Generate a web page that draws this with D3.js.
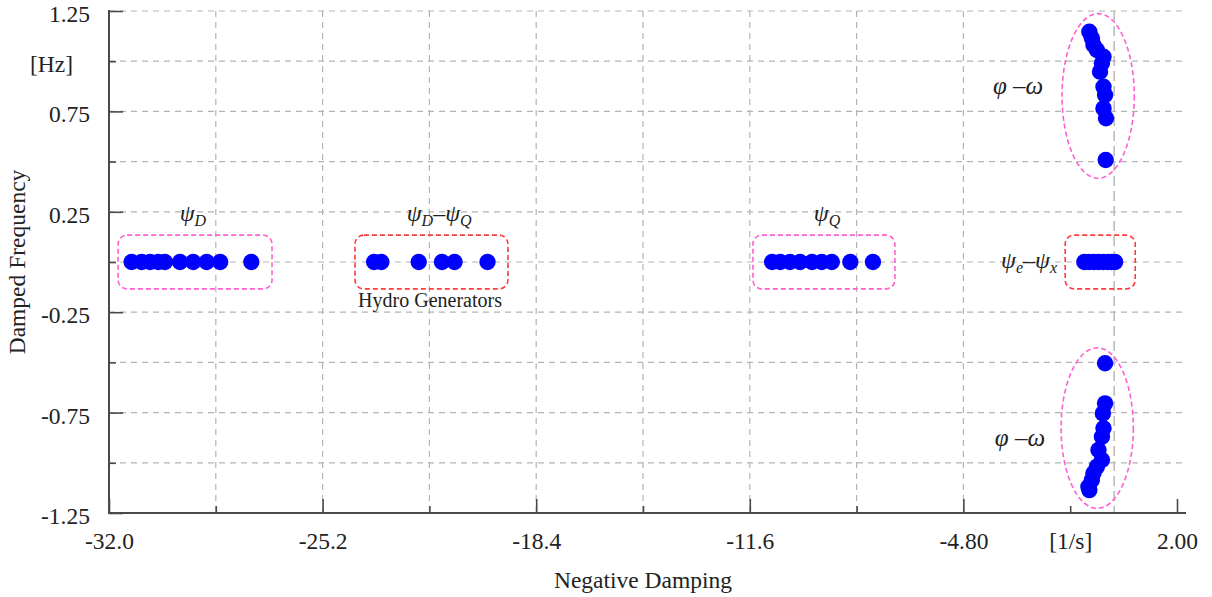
<!DOCTYPE html>
<html>
<head>
<meta charset="utf-8">
<script src="https://cdn.jsdelivr.net/npm/d3@7/dist/d3.min.js"></script>
<style>
  body { margin: 0; background: #fff; }
  svg { display: block; }
  text { font-family: "Liberation Serif", "Times New Roman", serif; fill: #222; }
</style>
</head>
<body>
<svg id="chart" width="1212" height="597"></svg>
<script>
// ---- axis ticks and labels ----
const xMajorTicks  = [-32.0, -25.2, -18.4, -11.6, -4.8, 2.0];
const xMajorLabels = ["-32.0", "-25.2", "-18.4", "-11.6", "-4.80", "2.00"];
const xMinorTicks  = [-28.6, -21.8, -15.0, -8.2, -1.4];
const xMinorLabels = ["", "", "", "", "[1/s]"];
const xGridLines   = [-28.6, -25.2, -21.8, -18.4, -15.0, -11.6, -8.2, -4.8];
const xZeroLine    = [0];

const yMajorTicks  = [-1.25, -0.75, -0.25, 0.25, 0.75, 1.25];
const yMajorLabels = ["-1.25", "-0.75", "-0.25", "0.25", "0.75", "1.25"];
const yMinorTicks  = [-1.0, -0.5, 0.0, 0.5, 1.0];
const yMinorLabels = ["", "", "", "", "[Hz]"];
const yGridLines   = [-1.0, -0.75, -0.5, -0.25, 0.0, 0.25, 0.5, 0.75, 1.0, 1.25];

// ---- eigenvalues: real part (negative damping, 1/s) and imaginary part (damped frequency, Hz) ----
const psiDReal  = [-31.28, -30.96, -30.69, -30.43, -30.22, -29.74, -29.32, -28.89, -28.46, -27.47];
const psiDImag  = [0, 0, 0, 0, 0, 0, 0, 0, 0, 0];

const hydroReal = [-23.56, -23.33, -22.14, -21.40, -21.00, -19.95];
const hydroImag = [0, 0, 0, 0, 0, 0];

const psiQReal  = [-10.89, -10.63, -10.32, -10.00, -9.62, -9.31, -8.99, -8.40, -7.68];
const psiQImag  = [0, 0, 0, 0, 0, 0, 0, 0, 0];

const excReal   = [-0.95, -0.80, -0.65, -0.50, -0.35, -0.20, -0.08, 0.03];
const excImag   = [0, 0, 0, 0, 0, 0, 0, 0];

const mechUpperReal = [-0.79, -0.71, -0.66, -0.55, -0.34, -0.39, -0.45, -0.34, -0.29, -0.34, -0.26, -0.27];
const mechUpperImag = [1.147, 1.114, 1.081, 1.056, 1.022, 0.990, 0.948, 0.873, 0.832, 0.765, 0.716, 0.508];

const mechLowerReal = [-0.29, -0.29, -0.36, -0.34, -0.39, -0.50, -0.39, -0.55, -0.66, -0.71, -0.82, -0.79];
const mechLowerImag = [-0.504, -0.704, -0.754, -0.828, -0.870, -0.936, -0.986, -1.019, -1.052, -1.086, -1.119, -1.136];

// ---- group outlines (data coordinates) ----
const boxGroups = [
  { x0: -31.71, x1: -26.81, y0: -0.134, y1: 0.134, kind: "pink" },
  { x0: -24.17, x1: -19.30, y0: -0.134, y1: 0.134, kind: "red" },
  { x0: -11.50, x1: -6.98,  y0: -0.134, y1: 0.134, kind: "pink" },
  { x0: -1.56,  x1: 0.67,   y0: -0.134, y1: 0.134, kind: "red" }
];
const ellipseGroups = [
  { cx: -0.51, cy: 0.827,  rx: 1.15, ry: 0.41 },
  { cx: -0.54, cy: -0.827, rx: 1.15, ry: 0.40 }
];

// ---- group labels: [symbol, subscript] pieces ----
const groupLabels = [
  { x: -29.33, y: 0.204,  anchor: "middle", size: 24, parts: [["ψ", "D"]] },
  { x: -21.49, y: 0.204,  anchor: "middle", size: 24, parts: [["ψ", "D"], ["–", ""], ["ψ", "Q"]] },
  { x: -9.14,  y: 0.204,  anchor: "middle", size: 24, parts: [["ψ", "Q"]] },
  { x: -1.82,  y: -0.030, anchor: "end",    size: 24, parts: [["ψ", "e"], ["–", ""], ["ψ", "x"]] },
  { x: -3.06,  y: 0.835,  anchor: "middle", size: 25, parts: [["φ –ω", ""]] },
  { x: -3.00,  y: -0.918, anchor: "middle", size: 25, parts: [["φ –ω", ""]] }
];
const noteLabel = { x: -21.78, y: -0.222, text: "Hydro Generators" };

const svg = d3.select("#chart");
const x = d3.scaleLinear().domain([-32, 2]).range([109, 1177]);
const y = d3.scaleLinear().domain([-1.25, 1.25]).range([513, 11]);

const colors = { pink: "#ff5fd2", red: "#ff3b3b", point: "#0000ff", grid: "#b3b3b3", axis: "#4a4a4a" };
const xEnd = 1186;
const fontSize = 23.5;

// grid
const grid = svg.append("g");
grid.selectAll("line.hg").data(yGridLines).join("line")
  .attr("x1", x(-32)).attr("x2", xEnd)
  .attr("y1", d => y(d)).attr("y2", d => y(d))
  .attr("stroke", colors.grid).attr("stroke-width", 1.2).attr("stroke-dasharray", "6,5");
grid.selectAll("line.vg").data(xGridLines).join("line")
  .attr("x1", d => x(d)).attr("x2", d => x(d))
  .attr("y1", y(1.25)).attr("y2", y(-1.25))
  .attr("stroke", colors.grid).attr("stroke-width", 1.2).attr("stroke-dasharray", "6,5");
grid.selectAll("line.zg").data(xZeroLine).join("line")
  .attr("x1", d => x(d)).attr("x2", d => x(d))
  .attr("y1", y(1.25)).attr("y2", y(-1.25))
  .attr("stroke", "#bdbdbd").attr("stroke-width", 1.6).attr("stroke-dasharray", "10,5");

// axes
const xAxisG = svg.append("g").attr("transform", `translate(0,${y(-1.25)})`);
xAxisG.call(d3.axisBottom(x).tickValues(xMajorTicks).tickSizeInner(-14).tickSizeOuter(0)
  .tickPadding(19).tickFormat((d, i) => xMajorLabels[i]));
const xMinorG = svg.append("g").attr("transform", `translate(0,${y(-1.25)})`);
xMinorG.call(d3.axisBottom(x).tickValues(xMinorTicks).tickSizeInner(-7).tickSizeOuter(0)
  .tickPadding(19).tickFormat((d, i) => xMinorLabels[i]));

const yAxisG = svg.append("g").attr("transform", `translate(${x(-32)},0)`);
yAxisG.call(d3.axisLeft(y).tickValues(yMajorTicks).tickSizeInner(-14).tickSizeOuter(0)
  .tickPadding(19).tickFormat((d, i) => yMajorLabels[i]));
const yMinorG = svg.append("g").attr("transform", `translate(${x(-32)},0)`);
yMinorG.call(d3.axisLeft(y).tickValues(yMinorTicks).tickSizeInner(-7).tickSizeOuter(0)
  .tickPadding(36).tickFormat((d, i) => yMinorLabels[i]));

[xAxisG, xMinorG, yAxisG, yMinorG].forEach(g => {
  g.select(".domain").remove();
  g.selectAll(".tick line").attr("stroke", colors.axis).attr("stroke-width", 1.6);
  g.selectAll(".tick text").filter(function () { return this.textContent === ""; }).remove();
  g.selectAll(".tick text").attr("font-size", fontSize).attr("fill", "#222")
    .attr("font-family", '"Liberation Serif", "Times New Roman", serif');
});
[yAxisG, yMinorG].forEach(g => g.selectAll(".tick text").attr("dy", "0.45em"));

// axis lines
svg.append("line").attr("x1", x(-32) - 1).attr("x2", xEnd)
  .attr("y1", y(-1.25)).attr("y2", y(-1.25)).attr("stroke", colors.axis).attr("stroke-width", 2);
svg.append("line").attr("x1", x(-32)).attr("x2", x(-32))
  .attr("y1", y(1.25) - 1).attr("y2", y(-1.25)).attr("stroke", colors.axis).attr("stroke-width", 2);

// axis titles
svg.append("text").attr("x", (x(-32) + x(2)) / 2).attr("y", 588)
  .attr("text-anchor", "middle").attr("font-size", fontSize).text("Negative Damping");
svg.append("text").attr("transform", `translate(25,${y(0)}) rotate(-90)`)
  .attr("text-anchor", "middle").attr("font-size", fontSize).text("Damped Frequency");

// group outlines
svg.append("g").selectAll("rect").data(boxGroups).join("rect")
  .attr("x", d => x(d.x0)).attr("y", d => y(d.y1))
  .attr("width", d => x(d.x1) - x(d.x0)).attr("height", d => y(d.y0) - y(d.y1))
  .attr("rx", 9).attr("ry", 9)
  .attr("fill", "none").attr("stroke", d => colors[d.kind])
  .attr("stroke-width", 1.6).attr("stroke-dasharray", "5,3");
svg.append("g").selectAll("ellipse").data(ellipseGroups).join("ellipse")
  .attr("cx", d => x(d.cx)).attr("cy", d => y(d.cy))
  .attr("rx", d => x(d.cx + d.rx) - x(d.cx)).attr("ry", d => y(d.cy - d.ry) - y(d.cy))
  .attr("fill", "none").attr("stroke", colors.pink)
  .attr("stroke-width", 1.6).attr("stroke-dasharray", "5,3");

// eigenvalue markers
const series = [
  [psiDReal, psiDImag], [hydroReal, hydroImag], [psiQReal, psiQImag],
  [excReal, excImag], [mechUpperReal, mechUpperImag], [mechLowerReal, mechLowerImag]
];
const points = series.flatMap(([re, im]) => re.map((v, i) => ({ re: v, im: im[i] })));
svg.append("g").selectAll("circle").data(points).join("circle")
  .attr("cx", d => x(d.re)).attr("cy", d => y(d.im)).attr("r", 8.2)
  .attr("fill", colors.point);

// group labels with subscripts
const lbl = svg.append("g");
groupLabels.forEach(g => {
  const t = lbl.append("text").attr("x", x(g.x)).attr("y", y(g.y))
    .attr("text-anchor", g.anchor).attr("font-size", g.size).attr("font-style", "italic");
  let shift = 0;
  g.parts.forEach(([main, sub]) => {
    t.append("tspan").attr("dy", -shift).text(main);
    shift = 0;
    if (sub) {
      t.append("tspan").attr("font-size", Math.round(g.size * 0.68)).attr("dy", 5).text(sub);
      shift = 5;
    }
  });
});
svg.append("text").attr("x", x(noteLabel.x)).attr("y", y(noteLabel.y))
  .attr("text-anchor", "middle").attr("font-size", 20).text(noteLabel.text);
</script>
</body>
</html>
